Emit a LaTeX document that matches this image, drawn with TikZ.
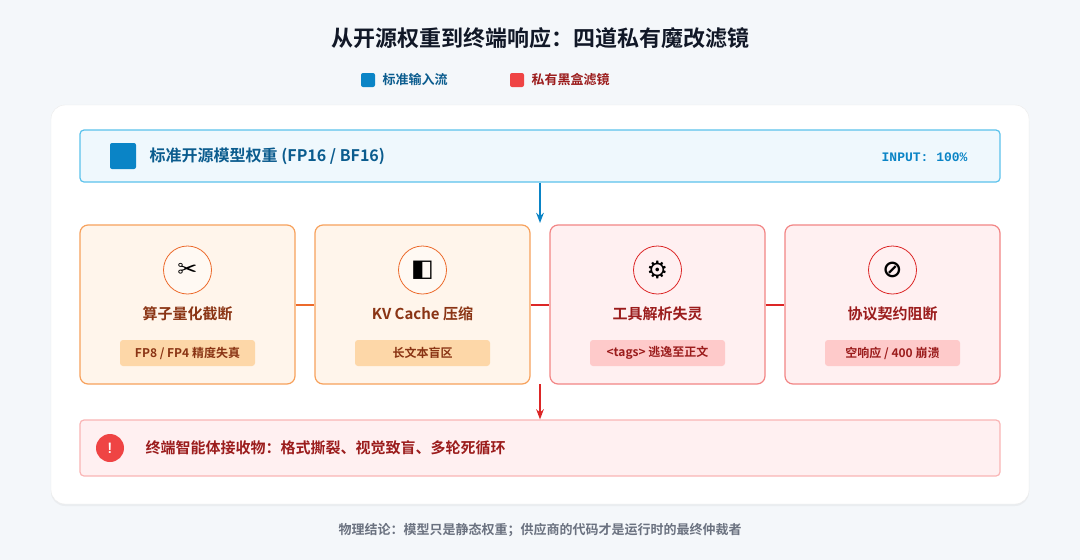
\documentclass[tikz,border=0pt]{standalone}
\usepackage{fontspec}
\setmainfont{Noto Sans CJK SC}
\newfontfamily\cjkb{Noto Sans CJK SC Bold}
\newfontfamily\sym{DejaVu Sans}
\setmonofont{Liberation Mono}
\usetikzlibrary{positioning,arrows.meta,shadows}
\definecolor{bgpage}{HTML}{F4F7FA}
\definecolor{inkdark}{HTML}{111827}
\definecolor{blueln}{HTML}{5BC2EC}
\definecolor{bluefl}{HTML}{EFF8FD}
\definecolor{bluedk}{HTML}{0B5C8E}
\definecolor{bluemd}{HTML}{0A84C6}
\definecolor{orgln}{HTML}{F7A15C}
\definecolor{orgfl}{HTML}{FFF5EB}
\definecolor{orgbd}{HTML}{FDD7A8}
\definecolor{orgtx}{HTML}{8A3414}
\definecolor{orgcon}{HTML}{EC6A2B}
\definecolor{redln}{HTML}{F28585}
\definecolor{redfl}{HTML}{FFF0F1}
\definecolor{redbd}{HTML}{FECACA}
\definecolor{redtx}{HTML}{9B1C1C}
\definecolor{redmd}{HTML}{DC2626}
\definecolor{redic}{HTML}{EF4444}
\definecolor{graytx}{HTML}{6B7280}
\begin{document}
\begin{tikzpicture}[
    x=1pt, y=-1pt,
    >=Stealth,
    every node/.style={font=\cjkb},
    card/.style={draw, line width=1.2pt, rounded corners=8pt, minimum width=215pt, minimum height=159pt},
    ocard/.style={card, draw=orgln, fill=orgfl},
    rcard/.style={card, draw=redln, fill=redfl},
    icon/.style={circle, draw, line width=0.8pt, minimum size=48pt, font=\sym\bfseries\fontsize{24}{24}\selectfont},
    ctitle/.style={font=\cjkb\fontsize{15}{17}\selectfont},
    badge/.style={rounded corners=3pt, minimum width=135pt, minimum height=26pt, font=\cjkb\fontsize{12}{14}\selectfont},
    link/.style={line width=2pt}
]
    \fill[bgpage] (0,0) rectangle (1080,560);
    \node[font=\cjkb\fontsize{22}{26}\selectfont, text=inkdark] (title) at (540,38) {从开源权重到终端响应：四道私有魔改滤镜};

    % legend
    \node[fill=bluemd, rounded corners=2pt, minimum size=14pt, inner sep=0pt] (lgA) at (368,80) {};
    \node[right=4pt of lgA, text=bluedk, font=\cjkb\fontsize{13}{15}\selectfont] {标准输入流};
    \node[fill=redic, rounded corners=2pt, minimum size=14pt, inner sep=0pt] (lgB) at (517,80) {};
    \node[right=4pt of lgB, text=redtx, font=\cjkb\fontsize{13}{15}\selectfont] {私有黑盒滤镜};

    % panel
    \fill[white, rounded corners=14pt, drop shadow={opacity=0.08, shadow xshift=0pt, shadow yshift=-2pt}] (51,105) rectangle (1029,504);
    \draw[black!8, rounded corners=14pt] (51,105) rectangle (1029,504);

    % input bar
    \node[draw=blueln, fill=bluefl, line width=1.2pt, rounded corners=4pt, minimum width=920pt, minimum height=52pt] (src) at (540,156) {};
    \node[fill=bluemd, rounded corners=2pt, minimum size=26pt, inner sep=0pt] (srcIc) at (123,156) {};
    \node[right=10pt of srcIc, text=bluedk, font=\cjkb\fontsize{16}{18}\selectfont] {标准开源模型权重 (FP16 / BF16)};
    \node[anchor=east, text=bluemd, font=\ttfamily\bfseries\fontsize{13}{15}\selectfont] at (971,157) {INPUT: 100\%};

    % filters
    \node[ocard] (f1) at (187.5,304.5) {};
    \node[ocard] (f2) at (422.5,304.5) {};
    \node[rcard] (f3) at (657.5,304.5) {};
    \node[rcard] (f4) at (892.5,304.5) {};

    \node[icon, draw=orgcon, fill=orgfl!60!white] at (187.5,270) {✂};
    \node[icon, draw=orgcon, fill=orgfl!60!white] at (422.5,270) {◧};
    \node[icon, draw=redmd, fill=redfl] at (657.5,270) {⚙};
    \node[icon, draw=redmd, fill=redfl] at (892.5,270) {⊘};

    \node[ctitle, text=orgtx] at (187.5,314) {算子量化截断};
    \node[ctitle, text=orgtx] at (422.5,314) {KV Cache 压缩};
    \node[ctitle, text=redtx] at (657.5,314) {工具解析失灵};
    \node[ctitle, text=redtx] at (892.5,314) {协议契约阻断};

    \node[badge, fill=orgbd, text=orgtx] at (187.5,353) {FP8 / FP4 精度失真};
    \node[badge, fill=orgbd, text=orgtx] at (422.5,353) {长文本盲区};
    \node[badge, fill=redbd, text=redtx] at (657.5,353) {<tags> 逃逸至正文};
    \node[badge, fill=redbd, text=redtx] at (892.5,353) {空响应 / 400 崩溃};

    \draw[link, orgcon] (f1) -- (f2);
    \draw[link, redmd] (f2) -- (f3);
    \draw[link, redmd] (f3) -- (f4);

    % output bar
    \node[draw=redbd!70!redln, fill=redfl, line width=1.2pt, rounded corners=4pt, minimum width=920pt, minimum height=56pt] (out) at (540,448) {};
    \node[circle, fill=redic, minimum size=28pt, inner sep=0pt, text=white, font=\sffamily\bfseries\fontsize{15}{15}\selectfont] (outIc) at (110,448) {!};
    \node[right=18pt of outIc, text=redtx, font=\cjkb\fontsize{15}{17}\selectfont] {终端智能体接收物：格式撕裂、视觉致盲、多轮死循环};

    \coordinate (midA) at (540,223);
    \coordinate (midB) at (540,384);
    \draw[->, line width=1.6pt, bluemd] (src.south) -- (midA);
    \draw[->, line width=1.6pt, redmd] (midB) -- (out.north);

    \node[text=graytx, font=\cjkb\fontsize{13}{15}\selectfont] (note) at (540,530) {物理结论：模型只是静态权重；供应商的代码才是运行时的最终仲裁者};
\end{tikzpicture}
\end{document}
